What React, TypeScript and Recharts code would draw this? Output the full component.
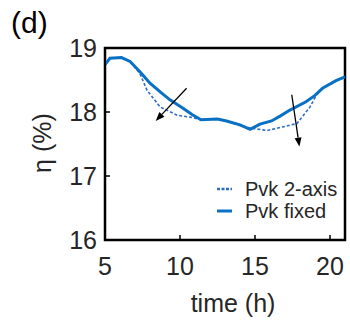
import {
  Line,
  LineChart,
  ReferenceArea,
  ReferenceLine,
  XAxis,
  YAxis,
} from 'recharts';

// Efficiency over the day, perovskite on a fixed mount vs. 2-axis tracking.
const fixedTime = [5, 5.33, 6.1, 6.67, 7.33, 8.0, 8.7, 9.33, 10.2, 10.8, 11.4, 12.5, 13.1, 14.0, 14.67, 15.33, 16.1, 16.7, 17.33, 18.4, 19.0, 19.5, 20.4, 21.0];
const fixedEta = [18.74, 18.84, 18.85, 18.79, 18.63, 18.45, 18.31, 18.19, 18.06, 17.96, 17.88, 17.89, 17.86, 17.8, 17.73, 17.81, 17.86, 17.94, 18.03, 18.16, 18.26, 18.37, 18.49, 18.55];

const twoAxisTime = [5, 5.33, 6.1, 6.67, 7.33, 7.8, 8.67, 9.8, 10.67, 11.4, 12.5, 13.1, 14.0, 14.67, 15.8, 16.9, 17.8, 18.67, 19.1, 19.5, 20.4, 21.0];
const twoAxisEta = [18.74, 18.84, 18.85, 18.79, 18.6, 18.34, 18.08, 17.95, 17.92, 17.88, 17.89, 17.86, 17.79, 17.75, 17.71, 17.77, 17.82, 18.08, 18.27, 18.37, 18.49, 18.55];

const xTicks = [5, 10, 15, 20];
const yTicks = [16, 17, 18, 19];

// Arrows pointing from the fixed curve towards the tracked one: [from, to] as [t, eta].
const arrows = [
  [[10.44, 18.37], [8.38, 17.86]],
  [[17.45, 18.27], [17.96, 17.46]],
];

const FONT = '"Liberation Sans", Arial, sans-serif';
const INK = '#262626';
const BLUE = '#0a70c4';
const BLUE_DASH = '#2f6cc6';

const fixedData = fixedTime.map((t, i) => ({ t, eta: fixedEta[i] }));
const twoAxisData = twoAxisTime.map((t, i) => ({ t, eta: twoAxisEta[i] }));

function Arrow(props: any) {
  const { x1, y1, x2, y2 } = props;
  const ang = Math.atan2(y2 - y1, x2 - x1);
  const len = 9;
  const half = 3.5;
  const bx = x2 - len * Math.cos(ang);
  const by = y2 - len * Math.sin(ang);
  const px = -Math.sin(ang) * half;
  const py = Math.cos(ang) * half;
  return (
    <g>
      <line x1={x1} y1={y1} x2={bx} y2={by} stroke="#000" strokeWidth={1.3} />
      <polygon
        points={`${x2},${y2} ${bx + px},${by + py} ${bx - px},${by - py}`}
        fill="#000"
      />
    </g>
  );
}

// Legend drawn straight into the svg so it does not eat into the plot area.
function LegendBox({ x, y }: { x: number; y: number }) {
  const rows = [
    { label: 'Pvk 2-axis', dash: '3 1.5', color: BLUE_DASH, width: 2.5 },
    { label: 'Pvk fixed', dash: undefined, color: BLUE, width: 3 },
  ];
  return (
    <g transform={`translate(${x}, ${y})`}>
      {rows.map((r, i) => (
        <g key={r.label} transform={`translate(0, ${i * 22})`}>
          <line x1={0} x2={15} y1={0} y2={0} stroke={r.color} strokeWidth={r.width} strokeDasharray={r.dash} />
          <text x={28} y={0} dy="0.35em" fontSize={20} fontFamily={FONT} fill={INK}>
            {r.label}
          </text>
        </g>
      ))}
    </g>
  );
}

export default function App() {
  return (
    <div style={{ position: 'absolute', left: 0, top: 0, width: 350, height: 323, background: '#fff' }}>
      <LineChart width={350} height={323} margin={{ top: 48, right: 5, bottom: 0, left: 0 }}>
        <XAxis
          type="number"
          dataKey="t"
          domain={[5, 21]}
          ticks={xTicks}
          allowDataOverflow
          height={83}
          tickSize={-5}
          tickMargin={22}
          axisLine={{ stroke: '#000', strokeWidth: 2 }}
          tickLine={{ stroke: '#000', strokeWidth: 1.5 }}
          tick={{ fontSize: 25, fill: INK, fontFamily: FONT }}
        />
        <YAxis
          type="number"
          domain={[16, 19]}
          ticks={yTicks}
          allowDataOverflow
          width={105}
          tickSize={-5}
          tickMargin={13}
          axisLine={{ stroke: '#000', strokeWidth: 2 }}
          tickLine={{ stroke: '#000', strokeWidth: 1.5 }}
          tick={{ fontSize: 25, fill: INK, fontFamily: FONT }}
        />
        <ReferenceArea x1={5} x2={21} y1={16} y2={19} fill="none" stroke="#000" strokeWidth={2.5} />
        <Line
          data={twoAxisData}
          dataKey="eta"
          type="linear"
          stroke={BLUE_DASH}
          strokeWidth={1.6}
          strokeDasharray="3 2"
          dot={false}
          isAnimationActive={false}
        />
        <Line
          data={fixedData}
          dataKey="eta"
          type="linear"
          stroke={BLUE}
          strokeWidth={3}
          dot={false}
          isAnimationActive={false}
        />
        {arrows.map(([from, to], i) => (
          <ReferenceLine
            key={i}
            segment={[
              { x: from[0], y: from[1] },
              { x: to[0], y: to[1] },
            ]}
            shape={Arrow}
          />
        ))}
        <LegendBox x={217} y={189} />
        <text x={11} y={33} fontSize={30} fontFamily={FONT} fill="#000">
          (d)
        </text>
        <text x={233} y={312} textAnchor="middle" fontSize={25} fontFamily={FONT} fill={INK}>
          time (h)
        </text>
        <text
          x={51}
          y={143}
          textAnchor="middle"
          fontSize={25}
          fontFamily={FONT}
          fill={INK}
          transform="rotate(-90 51 143)"
        >
          η (%)
        </text>
      </LineChart>
    </div>
  );
}
